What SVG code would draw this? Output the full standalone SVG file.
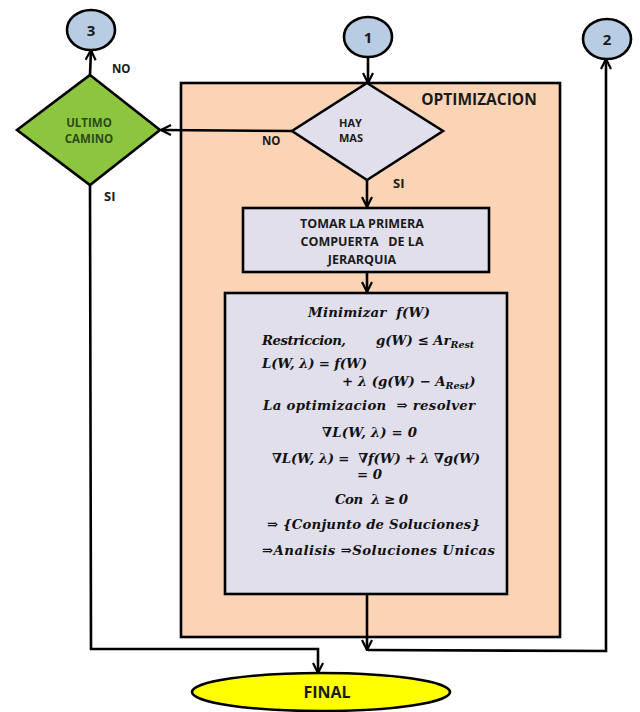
<svg xmlns="http://www.w3.org/2000/svg" width="640" height="712" viewBox="0 0 640 712">
  <defs>
    <marker id="arr" viewBox="0 0 12 12" refX="11" refY="6" markerWidth="12" markerHeight="12" markerUnits="userSpaceOnUse" orient="auto">
      <path d="M1,1 L11,6 L1,11" fill="none" stroke="#000" stroke-width="2.2"/>
    </marker>
    <style>
      .edge { fill: none; stroke: #000; stroke-width: 2.6; }
      .box { stroke: #000; stroke-width: 2.6; }
      .lbl { font-family: "Open Sans", "Liberation Sans", sans-serif; font-weight: 700; fill: #1a1a1a; }
      .math { font-family: "DejaVu Serif", "Liberation Serif", serif; font-weight: 700; font-style: italic; font-size: 13.3px; fill: #111; }
      .sub { font-size: 9.5px; }
    </style>
  </defs>
  <rect width="640" height="712" fill="#fff"/>

  <!-- container -->
  <g id="optimizacion">
    <rect x="181" y="83" width="379" height="554" fill="#FBD4B6" class="box"/>
    <text x="479" y="105" text-anchor="middle" class="lbl" font-size="15.5">OPTIMIZACION</text>
  </g>

  <!-- connectors -->
  <g id="connectors">
    <line x1="368" y1="58" x2="368" y2="83" class="edge" marker-end="url(#arr)"/>
    <line x1="292" y1="131" x2="161" y2="130" class="edge" marker-end="url(#arr)"/>
    <line x1="367" y1="180" x2="367" y2="207" class="edge" marker-end="url(#arr)"/>
    <line x1="367" y1="272" x2="367" y2="292" class="edge" marker-end="url(#arr)"/>
    <line x1="90" y1="75" x2="91" y2="50" class="edge" marker-end="url(#arr)"/>
    <polyline points="90,185 91,649 318,649 318,673" class="edge" marker-end="url(#arr)"/>
    <line x1="367" y1="594" x2="367" y2="650" class="edge" marker-end="url(#arr)"/>
    <polyline points="368,650 606,651 606,59" class="edge" marker-end="url(#arr)"/>
    <text x="262" y="145" class="lbl" font-size="11.5">NO</text>
    <text x="393" y="188" class="lbl" font-size="13">SI</text>
    <text x="112" y="73" class="lbl" font-size="11.5">NO</text>
    <text x="104" y="201" class="lbl" font-size="13">SI</text>
  </g>

  <g id="c3">
    <ellipse cx="91" cy="30" rx="24" ry="20" fill="#B8CCE4" class="box"/>
    <text x="91" y="36" text-anchor="middle" class="lbl" font-size="15">3</text>
  </g>
  <g id="c1">
    <ellipse cx="368" cy="37" rx="24" ry="20" fill="#B8CCE4" class="box"/>
    <text x="368" y="43" text-anchor="middle" class="lbl" font-size="15">1</text>
  </g>
  <g id="c2">
    <ellipse cx="607" cy="39" rx="24" ry="20" fill="#B8CCE4" class="box"/>
    <text x="607" y="45" text-anchor="middle" class="lbl" font-size="15">2</text>
  </g>

  <g id="ultimo-camino">
    <polygon points="90,75 160,130 90,185 17,130" fill="#8CC63F" class="box"/>
    <text x="89" y="127" text-anchor="middle" class="lbl" font-size="11.5" style="fill:#2B4A1A">ULTIMO</text>
    <text x="89" y="143" text-anchor="middle" class="lbl" font-size="11.5" style="fill:#2B4A1A">CAMINO</text>
  </g>

  <g id="hay-mas">
    <polygon points="367,83 443,131 367,180 292,131" fill="#E1DFEC" class="box"/>
    <text x="339" y="127" class="lbl" font-size="11">HAY</text>
    <text x="339" y="142" class="lbl" font-size="11">MAS</text>
  </g>

  <g id="tomar">
    <rect x="243" y="208" width="246" height="64" fill="#E1DFEC" class="box"/>
    <text x="362" y="228" text-anchor="middle" class="lbl" font-size="12.5">TOMAR LA PRIMERA</text>
    <text x="362" y="246" text-anchor="middle" class="lbl" font-size="12.5" xml:space="preserve">COMPUERTA   DE LA</text>
    <text x="362" y="264" text-anchor="middle" class="lbl" font-size="12.5">JERARQUIA</text>
  </g>

  <g id="lagrange">
    <rect x="225" y="293" width="282" height="301" fill="#E1DFEC" class="box"/>
    <text x="308" y="317" class="math" xml:space="preserve" textLength="122" lengthAdjust="spacing">Minimizar  f(W)</text>
    <text x="262" y="345" class="math" textLength="84" lengthAdjust="spacing">Restriccion,</text>
    <text x="376" y="345" class="math">g(W) ≤ Ar<tspan class="sub" dy="3">Rest</tspan></text>
    <text x="262" y="368" class="math" textLength="105" lengthAdjust="spacing">L(W, λ) = f(W)</text>
    <text x="342" y="386" class="math">+ λ (g(W) − A<tspan class="sub" dy="3">Rest</tspan><tspan dy="-3">)</tspan></text>
    <text x="263" y="410" class="math" xml:space="preserve" textLength="212" lengthAdjust="spacing">La optimizacion  ⇒ resolver</text>
    <text x="322" y="437" class="math" textLength="95" lengthAdjust="spacing">∇L(W, λ) = 0</text>
    <text x="272" y="463" class="math" xml:space="preserve" textLength="208" lengthAdjust="spacing">∇L(W, λ) =  ∇f(W) + λ ∇g(W)</text>
    <text x="357" y="479" class="math" textLength="25" lengthAdjust="spacing">= 0</text>
    <text x="335" y="504" class="math" xml:space="preserve" textLength="73" lengthAdjust="spacing">Con  λ ≥ 0</text>
    <text x="267" y="529" class="math" textLength="213" lengthAdjust="spacing">⇒ {Conjunto de Soluciones}</text>
    <text x="262" y="555" class="math" textLength="233" lengthAdjust="spacing">⇒Analisis ⇒Soluciones Unicas</text>
  </g>

  <g id="final">
    <ellipse cx="321" cy="692" rx="129" ry="19" fill="#FFFF00" class="box"/>
    <text x="327" y="698" text-anchor="middle" class="lbl" font-size="16">FINAL</text>
  </g>
</svg>
